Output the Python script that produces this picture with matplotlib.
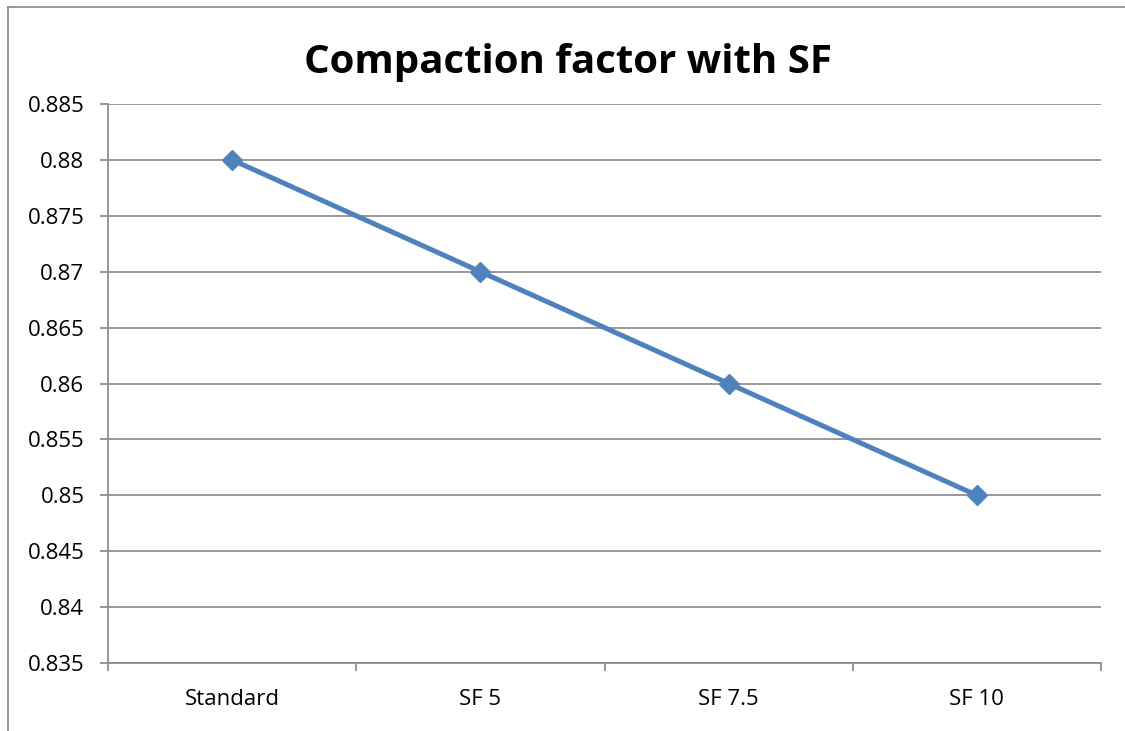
import matplotlib
matplotlib.use("Agg")
import matplotlib.pyplot as plt
from matplotlib.lines import Line2D

categories = ["Standard", "SF 5", "SF 7.5", "SF 10"]
compaction = [0.88, 0.87, 0.86, 0.85]
y_ticks = [0.835, 0.84, 0.845, 0.85, 0.855, 0.86, 0.865, 0.87, 0.875, 0.88, 0.885]
y_labels = ["0.835", "0.84", "0.845", "0.85", "0.855", "0.86", "0.865", "0.87", "0.875", "0.88", "0.885"]

plt.rcParams["font.family"] = ["Open Sans", "DejaVu Sans"]
W, H = 1125, 731
fig = plt.figure(figsize=(W / 100, H / 100), dpi=100)
fig.patch.set_facecolor("white")

# chart frame (left and top edges)
grey = "#868686"
fig.add_artist(Line2D([8 / W, 8 / W], [0, 1 - 7 / H], color=grey, lw=1.2, transform=fig.transFigure))
fig.add_artist(Line2D([8 / W, 1], [1 - 7 / H, 1 - 7 / H], color=grey, lw=1.2, transform=fig.transFigure))

left, right, top, bottom = 108, 1101, 104, 663
ax = fig.add_axes([left / W, 1 - bottom / H, (right - left) / W, (bottom - top) / H])

x = list(range(len(categories)))
ax.plot(x, compaction, color="#4F81BD", lw=3.6, marker="D", markersize=10.5,
        markerfacecolor="#4F81BD", markeredgecolor="#4F81BD", zorder=3)

ax.set_ylim(0.835, 0.885)
ax.set_yticks(y_ticks)
ax.set_yticklabels(y_labels)
ax.set_xlim(-0.5, len(categories) - 0.5)
ax.set_xticks(x)
ax.set_xticklabels(categories)
ax.set_xticks([i - 0.5 for i in range(len(categories) + 1)], minor=True)

ax.grid(axis="y", color=grey, lw=1.2)
ax.set_axisbelow(True)
for s in ["top", "right"]:
    ax.spines[s].set_visible(False)
for s in ["left", "bottom"]:
    ax.spines[s].set_color(grey)
    ax.spines[s].set_linewidth(1.2)

ax.tick_params(axis="y", which="major", length=6, width=1.2, color=grey, labelsize=16, pad=11)
ax.tick_params(axis="x", which="major", length=0, labelsize=16, pad=19)
ax.tick_params(axis="x", which="minor", length=6, width=1.2, color=grey)

fig.text(568 / W, 1 - 73 / H, "Compaction factor with SF", ha="center", va="baseline",
         fontsize=29, fontweight="bold")

fig.savefig("out.png", dpi=100)
